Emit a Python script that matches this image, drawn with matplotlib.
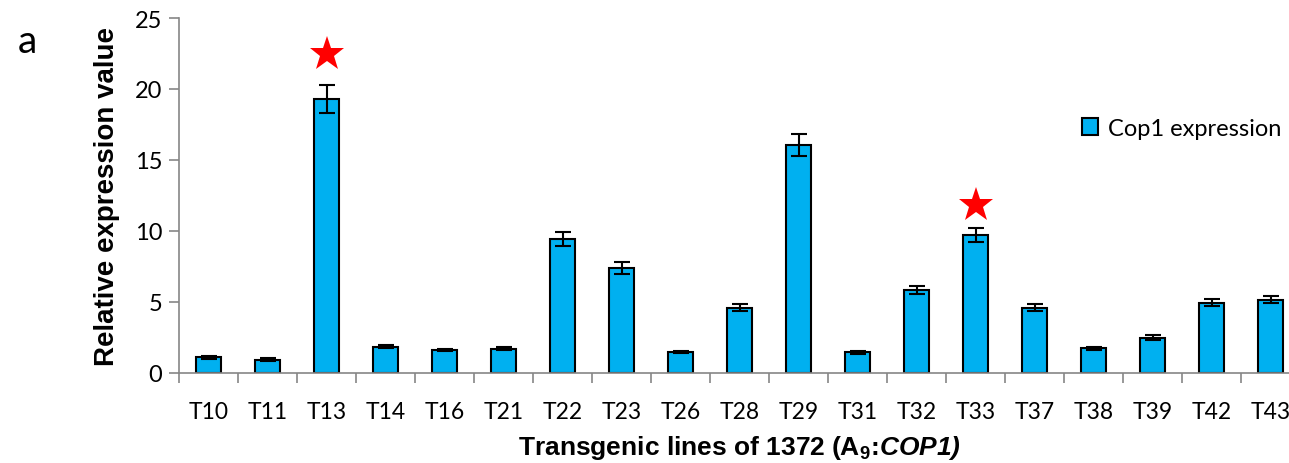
import matplotlib
matplotlib.use("Agg")
import matplotlib.pyplot as plt
import numpy as np

categories = ["T10", "T11", "T13", "T14", "T16", "T21", "T22", "T23", "T26", "T28",
              "T29", "T31", "T32", "T33", "T37", "T38", "T39", "T42", "T43"]
values = [1.1, 0.95, 19.3, 1.85, 1.6, 1.7, 9.45, 7.4, 1.5, 4.6,
          16.05, 1.45, 5.85, 9.7, 4.6, 1.75, 2.5, 4.95, 5.15]
errors = [0.08, 0.08, 1.0, 0.1, 0.08, 0.1, 0.5, 0.4, 0.08, 0.25,
          0.8, 0.08, 0.3, 0.5, 0.25, 0.1, 0.15, 0.25, 0.25]
star_categories = ["T13", "T33"]
star_heights = [22.5, 11.8]
yticks = [0, 5, 10, 15, 20, 25]

plt.rcParams['mathtext.fontset'] = 'custom'
plt.rcParams['mathtext.bf'] = 'Liberation Sans:bold'
plt.rcParams['mathtext.it'] = 'Liberation Sans:bold:italic'
plt.rcParams['mathtext.rm'] = 'Liberation Sans:bold:italic'

fig = plt.figure(figsize=(12.89, 4.64), dpi=100)
ax = fig.add_axes([179/1289, 1-374/464, 1121/1289, (374-19)/464])

x = np.arange(len(categories))
ax.bar(x, values, width=0.41, color="#00B0F0", edgecolor="black", linewidth=1.5,
       label="Cop1 expression", zorder=2)
ax.errorbar(x, values, yerr=errors, fmt="none", ecolor="black", elinewidth=1.5,
            capsize=6, capthick=1.5, zorder=3)
sx = [categories.index(c) for c in star_categories]
ax.plot(sx, star_heights, linestyle="none", marker="*", color="red", markersize=26,
        markeredgewidth=0, zorder=4)

ax.set_xlim(-0.5, len(categories) - 0.5)
ax.set_ylim(0, 25)
ax.set_yticks(yticks)
ax.set_yticklabels([str(t) for t in yticks], fontsize=17, family="Lato")
ax.set_xticks(x)
ax.set_xticklabels(categories, fontsize=16.5, family="Lato")
ax.tick_params(axis="x", length=0, pad=20)
ax.set_xticks(np.arange(len(categories)+1) - 0.5, minor=True)
ax.tick_params(axis="x", which="minor", length=7, color="#868686", width=1.2)
ax.tick_params(axis="y", length=7, color="#868686", width=1.2, pad=5)

for s in ["top", "right"]:
    ax.spines[s].set_visible(False)
for s in ["left", "bottom"]:
    ax.spines[s].set_color("#868686")
    ax.spines[s].set_linewidth(1.2)

ax.set_ylabel("Relative expression value", fontsize=20, fontweight="bold",
              family="Liberation Sans", labelpad=11)
ax.set_xlabel(r"Transgenic lines of 1372 (A$_\mathbf{9}$:$\mathrm{COP1)}$", fontsize=19,
              fontweight="bold", family="Liberation Sans", labelpad=8)

leg = ax.legend(loc="upper right", bbox_to_anchor=(1281/1289, 1-119/464),
                bbox_transform=fig.transFigure, borderpad=0, borderaxespad=0,
                frameon=False, prop={"family": "Lato", "size": 17},
                handlelength=0.7, handleheight=0.7, handletextpad=0.4)
for p in leg.get_patches():
    p.set_linewidth(1.5)

fig.text(18/1289, 1-42/464, "a", fontsize=28, family="Lato", va="center")

fig.savefig("out.png", dpi=100)
